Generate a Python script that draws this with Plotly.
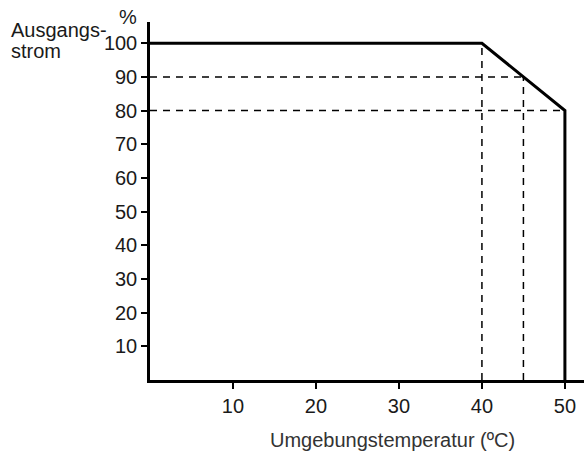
import plotly.graph_objects as go

# data
curve_x = [0, 40, 50, 50]
curve_y = [100, 100, 80, 0]
guide_v_x = [40, 45]          # vertical dashed guides
guide_v_top = [100, 90]
guide_h_y = [90, 80]          # horizontal dashed guides
guide_h_right = [45, 50]
x_ticks = [10, 20, 30, 40, 50]
y_ticks = [10, 20, 30, 40, 50, 60, 70, 80, 90, 100]

fig = go.Figure()

dash_style = dict(color="black", width=1.5, dash="7px,6px")
for x, top in zip(guide_v_x, guide_v_top):
    fig.add_trace(go.Scatter(x=[x, x], y=[0, top], mode="lines", line=dash_style,
                             showlegend=False, hoverinfo="skip"))
for y, right in zip(guide_h_y, guide_h_right):
    fig.add_trace(go.Scatter(x=[0, right], y=[y, y], mode="lines", line=dash_style,
                             showlegend=False, hoverinfo="skip"))

fig.add_trace(go.Scatter(x=curve_x, y=curve_y, mode="lines",
                         line=dict(color="black", width=3), showlegend=False))

fam = "Liberation Sans, Arial, sans-serif"
fs = 20
font = dict(family=fam, size=fs, color="#1a1a1a")

fig.update_layout(
    width=584, height=451,
    margin=dict(l=150, r=0, t=22, b=71),
    paper_bgcolor="white", plot_bgcolor="white",
    font=font,
    xaxis=dict(range=[0, 52.3], tickvals=x_ticks, showgrid=False, zeroline=False,
               showline=True, linecolor="black", linewidth=2.5,
               ticks="outside", ticklen=6, tickwidth=2, tickcolor="black"),
    yaxis=dict(range=[0, 106.3], tickvals=y_ticks, showgrid=False, zeroline=False,
               showline=True, linecolor="black", linewidth=2.5,
               ticks="outside", ticklen=6, tickwidth=2, tickcolor="black"),
    annotations=[
        dict(text="Umgebungstemperatur (ºC)", x=(392 - 150) / 434, xref="paper",
             y=0, yref="paper", yshift=-60, showarrow=False, xanchor="center",
             yanchor="middle", font=dict(family=fam, size=fs, color="#333")),
        dict(text="%", x=0, xref="paper", xshift=-22, y=1, yref="paper", yshift=5,
             showarrow=False, xanchor="center", yanchor="middle", font=dict(family=fam, size=fs)),
        dict(text="Ausgangs-", x=0, xref="paper", xshift=-141, y=1, yref="paper",
             yshift=-8, showarrow=False, xanchor="left", yanchor="middle",
             font=dict(family=fam, size=fs)),
        dict(text="strom", x=0, xref="paper", xshift=-141, y=1, yref="paper",
             yshift=-29, showarrow=False, xanchor="left", yanchor="middle",
             font=dict(family=fam, size=fs)),
    ],
)

fig.write_html("out.html")
